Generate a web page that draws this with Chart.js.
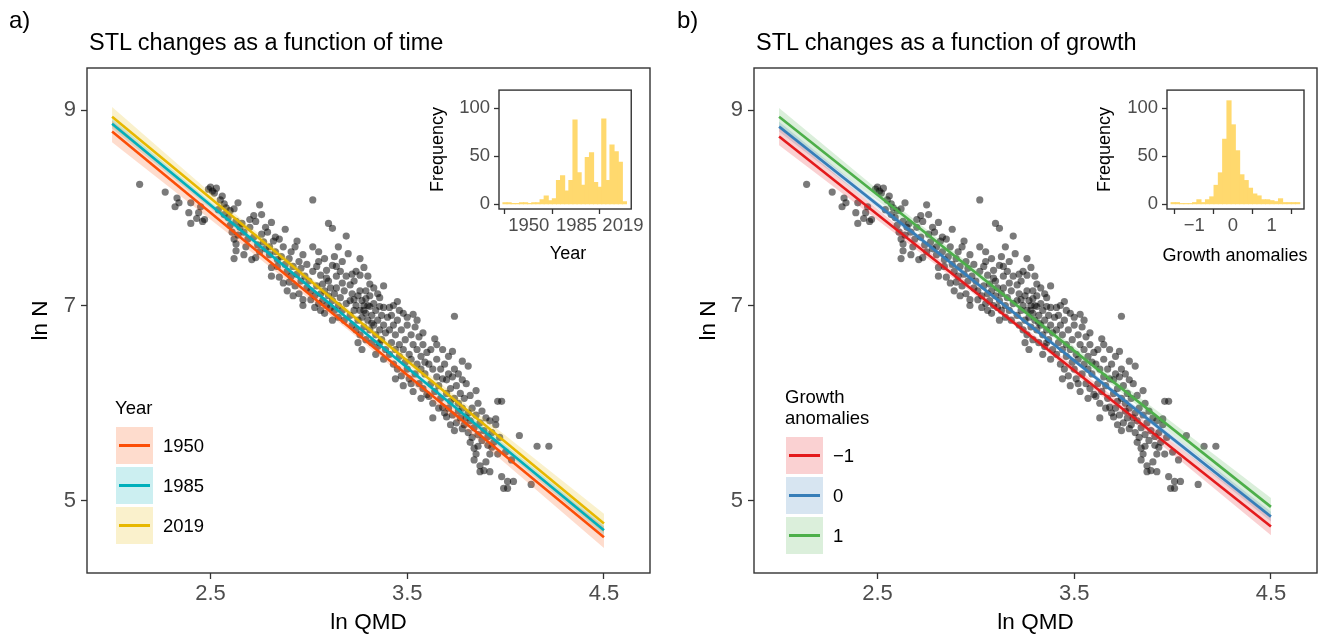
<!DOCTYPE html>
<html><head><meta charset="utf-8">
<script src="https://cdn.jsdelivr.net/npm/chart.js@4.4.1/dist/chart.umd.min.js"></script>
<style>
html,body{margin:0;padding:0;background:#fff;width:1322px;height:636px;overflow:hidden;font-family:"Liberation Sans",Arial,sans-serif;}
canvas{position:absolute;}
.txt{position:absolute;white-space:nowrap;color:#000;line-height:1;transform:translateY(-50%);}
.key{position:absolute;width:37px;height:37px;}
.key i{position:absolute;left:3px;top:17px;width:31px;height:3px;}
</style></head><body>
<canvas id="mainA" width="665" height="636" style="left:0;top:0"></canvas>
<canvas id="mainB" width="657" height="636" style="left:665px;top:0"></canvas>
<canvas id="insA" width="220" height="195" style="left:425px;top:75px"></canvas>
<canvas id="insB" width="228" height="195" style="left:1093px;top:75px"></canvas>
<div id="txt"></div>
<script>
// ---------------- DATA ----------------
const qmdTicks = [2.5, 3.5, 4.5];
const lnNTicks = [5, 7, 9];
// observed stands: [ln QMD, ln N]
const obs = [
[2.14,8.24],[2.27,8.16],[2.33,8.10],[2.34,8.05],[2.32,8.01],[2.39,7.95],[2.40,8.05],[2.40,7.84],[2.43,7.89],[2.46,7.86],[2.45,8.01],[2.47,7.88],[2.44,7.95],
[2.49,8.19],[2.50,8.21],[2.51,8.17],[2.52,8.15],[2.53,8.20],[2.56,8.12],[2.57,8.04],[2.55,8.08],[2.58,8.00],[2.60,7.97],[2.62,7.99],[2.64,8.05],[2.62,7.68],[2.63,7.63],[2.62,7.48],[2.63,7.56],[2.60,7.82],[2.61,7.75],[2.63,7.86],[2.65,7.80],[2.64,7.72],[2.59,7.90],[2.54,7.98],[2.57,7.93],
[2.67,7.52],[2.68,7.60],[2.71,7.47],[2.73,7.49],[2.75,8.03],[2.72,7.92],[2.76,7.93],[2.73,7.86],[2.81,7.85],[2.76,7.73],[2.82,7.66],[2.85,7.68],[2.81,7.39],[2.81,7.30],[2.85,7.29],[2.67,7.75],[2.69,7.68],[2.70,7.80],[2.72,7.70],[2.74,7.62],[2.75,7.55],[2.77,7.65],[2.78,7.58],[2.79,7.75],[2.80,7.52],[2.83,7.55],[2.84,7.47],[2.70,7.88],[2.66,7.84],[2.78,7.80],[2.80,7.60],[2.83,7.70],[2.84,7.40],
[2.88,7.78],[2.87,7.23],[2.90,7.24],[2.94,7.66],[2.93,7.60],[2.97,7.52],[2.99,7.42],[2.97,7.06],[2.97,7.00],[2.86,7.50],[2.88,7.42],[2.89,7.35],[2.90,7.48],[2.91,7.30],[2.92,7.40],[2.93,7.20],[2.94,7.32],[2.95,7.45],[2.96,7.25],[2.96,7.38],[2.98,7.30],[2.99,7.18],[2.87,7.60],[2.91,7.55],[2.95,7.12],[2.89,7.15],[2.92,7.10],
[3.01,7.06],[3.02,8.08],[3.02,7.60],[3.04,7.40],[3.08,7.48],[3.06,7.31],[3.09,7.36],[3.10,7.84],[3.12,7.79],[3.12,7.41],[3.14,7.30],[3.17,7.23],[3.14,7.18],[3.08,6.92],[3.12,6.85],[3.19,7.71],[3.20,7.53],[3.00,7.25],[3.01,7.15],[3.02,7.35],[3.03,7.10],[3.04,7.20],[3.05,7.02],[3.05,7.45],[3.06,7.12],[3.07,7.22],[3.07,7.05],[3.08,7.15],[3.09,7.00],[3.10,7.10],[3.10,7.25],[3.11,6.98],[3.11,7.18],[3.12,7.05],[3.13,6.95],[3.13,7.12],[3.14,7.40],[3.15,7.00],[3.15,6.88],[3.16,7.08],[3.16,7.35],[3.17,6.95],[3.18,7.15],[3.18,6.85],[3.19,7.02],[3.19,7.30],[3.03,6.98],[3.06,6.95],[3.09,7.28],[3.13,7.50],[3.17,7.45],[3.15,7.60],[3.05,7.55],
[3.21,7.21],[3.26,7.15],[3.29,7.15],[3.29,7.07],[3.23,7.06],[3.26,7.48],[3.28,7.39],[3.26,7.31],[3.26,6.95],[3.31,6.99],[3.36,6.99],[3.21,6.90],[3.21,7.05],[3.22,6.80],[3.22,7.12],[3.23,6.95],[3.24,6.75],[3.24,7.00],[3.25,6.85],[3.25,7.10],[3.26,6.70],[3.27,6.88],[3.27,7.05],[3.28,6.78],[3.28,6.95],[3.29,6.65],[3.30,6.85],[3.30,7.00],[3.31,6.75],[3.31,7.10],[3.32,6.90],[3.32,6.62],[3.33,6.80],[3.33,7.02],[3.34,6.70],[3.34,6.95],[3.35,6.85],[3.35,6.58],[3.36,6.75],[3.36,7.08],[3.37,6.90],[3.37,6.65],[3.38,6.80],[3.38,6.98],[3.39,6.55],[3.39,6.72],[3.40,6.88],[3.23,7.25],[3.25,6.62],[3.27,6.55],[3.30,7.30],[3.33,7.18],[3.35,7.12],[3.38,7.20],[3.24,7.35],[3.29,6.92],[3.32,6.82],[3.36,6.62],[3.22,7.32],[3.31,7.22],[3.28,7.00],[3.34,6.50],[3.38,6.45],
[3.45,7.04],[3.53,6.91],[3.52,6.20],[3.60,6.09],[3.61,6.07],[3.41,6.75],[3.41,6.50],[3.42,6.62],[3.42,6.90],[3.43,6.40],[3.43,6.80],[3.44,6.55],[3.44,6.70],[3.45,6.85],[3.45,6.35],[3.46,6.60],[3.46,6.48],[3.47,6.75],[3.47,6.28],[3.48,6.55],[3.48,6.92],[3.49,6.42],[3.49,6.65],[3.50,6.35],[3.50,6.80],[3.51,6.50],[3.51,6.25],[3.52,6.70],[3.52,6.45],[3.53,6.60],[3.54,6.30],[3.54,6.78],[3.55,6.40],[3.55,6.55],[3.56,6.20],[3.56,6.68],[3.57,6.35],[3.57,6.48],[3.58,6.15],[3.58,6.60],[3.59,6.30],[3.59,6.42],[3.60,6.52],[3.41,6.98],[3.43,7.00],[3.46,6.95],[3.50,6.88],[3.55,6.85],[3.58,6.72],[3.44,6.25],[3.48,6.18],[3.53,6.12],[3.57,6.05],
[3.64,6.66],[3.68,6.55],[3.73,6.53],[3.78,6.43],[3.81,6.38],[3.74,6.35],[3.78,6.24],[3.73,6.27],[3.74,6.89],[3.65,6.27],[3.70,6.24],[3.68,5.96],[3.70,5.86],[3.72,5.78],[3.74,5.72],[3.78,5.74],[3.61,6.40],[3.62,6.20],[3.62,6.55],[3.63,6.00],[3.63,6.35],[3.64,6.12],[3.65,6.45],[3.66,5.95],[3.66,6.18],[3.67,6.35],[3.67,6.05],[3.68,6.25],[3.69,5.90],[3.69,6.40],[3.70,6.10],[3.71,5.95],[3.71,6.30],[3.72,6.02],[3.72,6.15],[3.73,5.88],[3.74,6.05],[3.75,5.80],[3.75,6.18],[3.76,5.92],[3.76,6.00],[3.77,5.85],[3.77,6.10],[3.78,5.95],[3.79,5.78],[3.79,6.05],[3.80,5.85],[3.80,6.20],[3.65,6.60],[3.71,6.48],[3.76,6.30],[3.63,5.85],
[3.85,6.13],[3.82,6.08],[3.96,6.02],[3.98,6.02],[4.07,5.67],[4.16,5.56],[4.22,5.56],[3.95,5.84],[3.92,5.82],[3.95,5.78],[3.91,5.57],[3.86,5.56],[3.96,5.48],[3.92,5.48],[3.87,5.36],[3.90,5.40],[3.89,5.31],[3.87,5.30],[3.92,5.30],[3.98,5.25],[4.01,5.20],[4.04,5.20],[3.99,5.13],[4.01,5.13],[4.13,5.17],[3.83,5.65],[3.84,5.54],[3.81,5.70],[3.82,5.82],[3.83,5.95],[3.84,5.75],[3.85,5.88],[3.86,5.68],[3.87,5.80],[3.88,5.62],[3.88,5.92],[3.89,5.72],[3.90,5.85],[3.91,5.66],[3.93,5.70],[3.94,5.60],[3.85,5.48],[3.82,5.60],[3.81,5.90],[3.86,6.00],[3.97,5.65],[4.00,5.50],[4.03,5.42],[3.93,5.55],[3.84,5.42]
];

// fitted lines (endpoints) and confidence bands
const fitX = [2.0, 4.5];
const bandX = [2.0, 2.6, 3.2, 3.8, 4.5];

const yearLevels = ['1950', '1985', '2019'];
const fit1950 = [8.78, 4.63];
const fit1985 = [8.86, 4.70];
const fit2019 = [8.93, 4.77];
const band1950Hi = [8.89, 7.84, 6.83, 5.85, 4.74];
const band1950Lo = [8.67, 7.72, 6.75, 5.73, 4.52];
const band1985Hi = [8.91, 7.89, 6.88, 5.90, 4.75];
const band1985Lo = [8.81, 7.83, 6.84, 5.84, 4.65];
const band2019Hi = [9.03, 7.98, 6.97, 5.99, 4.87];
const band2019Lo = [8.83, 7.88, 6.90, 5.89, 4.67];

const growthLevels = ['\u22121', '0', '1'];
const fitGm1 = [8.73, 4.74];
const fitG0  = [8.83, 4.84];
const fitGp1 = [8.93, 4.94];
const bandGm1Hi = [8.82, 7.82, 6.85, 5.91, 4.83];
const bandGm1Lo = [8.64, 7.72, 6.79, 5.81, 4.65];
const bandG0Hi  = [8.88, 7.90, 6.94, 5.99, 4.89];
const bandG0Lo  = [8.78, 7.84, 6.90, 5.93, 4.79];
const bandGp1Hi = [9.02, 8.02, 7.05, 6.11, 5.03];
const bandGp1Lo = [8.84, 7.92, 6.99, 6.01, 4.85];

// inset histograms
const yearBinMid = [1932.6,1935.6,1938.6,1941.7,1944.7,1947.7,1950.7,1953.7,1956.7,1959.8,1962.8,1965.8,1968.8,1971.8,1974.8,1977.9,1980.9,1983.9,1986.9,1989.9,1992.9,1996.0,1999.0,2002.0,2005.0,2008.0,2011.0,2014.1,2017.1,2020.1];
const yearCount  = [2,2,1,1,2,2,1,2,2,5,9,4,6,25,30,14,25,88,33,20,49,54,23,18,89,25,62,55,44,3];
const yearTicks  = [1950, 1985, 2019];

const growthBinMid = [-1.546,-1.435,-1.324,-1.213,-1.102,-0.991,-0.880,-0.769,-0.658,-0.547,-0.436,-0.325,-0.214,-0.103,0.008,0.119,0.230,0.341,0.452,0.563,0.674,0.785,0.896,1.007,1.118,1.229,1.340,1.451,1.562,1.673];
const growthCount  = [2,2,1,1,1,2,5,2,5,8,20,33,68,108,83,56,31,25,17,11,9,5,5,4,3,6,2,2,2,2];
const growthTicks  = [-1, 0, 1];
const freqTicks    = [0, 50, 100];

// ---------------- STYLE ----------------
const yearColors   = ['#FC4E07', '#00AFBB', '#E7B800'];
const growthColors = ['#E41A1C', '#377EB8', '#4DAF4A'];
const FONT = '"Liberation Sans", Arial, sans-serif';
Chart.defaults.font.family = FONT;

function hexA(hex, a) {
  const n = parseInt(hex.slice(1), 16);
  return `rgba(${(n>>16)&255},${(n>>8)&255},${n&255},${a})`;
}
const xy = (xs, ys) => xs.map((x, i) => ({x, y: ys[i]}));

function buildDatasets(fits, his, los, colors) {
  const ds = [{
    data: obs.map(p => ({x: p[0], y: p[1]})),
    showLine: false, pointRadius: 3.6, pointHoverRadius: 3.6,
    pointBackgroundColor: 'rgba(0,0,0,0.52)', pointBorderWidth: 0, order: 3
  }];
  fits.forEach((f, k) => {
    ds.push({data: xy(bandX, his[k]), fill: '+1', backgroundColor: hexA(colors[k], 0.2),
      borderWidth: 0, borderColor: 'transparent', pointRadius: 0, order: 2});
    ds.push({data: xy(bandX, los[k]), fill: false, borderWidth: 0, borderColor: 'transparent', pointRadius: 0, order: 2});
    ds.push({data: xy(fitX, f), borderColor: colors[k], borderWidth: 2.6, pointRadius: 0, fill: false, order: 1 - k * 0.1});
  });
  return ds;
}

const boxPlugin = {id: 'box', afterDraw(chart) {
  const {ctx, chartArea: a} = chart;
  ctx.save(); ctx.strokeStyle = '#333333'; ctx.lineWidth = 1.4;
  ctx.strokeRect(a.left, a.top, a.right - a.left, a.bottom - a.top); ctx.restore();
}};
const whitePlugin = {id: 'white', beforeDraw(chart) {
  const {ctx, chartArea: a} = chart;
  ctx.save(); ctx.fillStyle = '#fff'; ctx.fillRect(a.left, a.top, a.right - a.left, a.bottom - a.top); ctx.restore();
}};

const tickGrid = {display: true, drawOnChartArea: false, drawTicks: true, tickLength: 6, tickColor: '#333333', tickWidth: 1.3};

function mainChart(id, datasets, yW, padRight, yTitlePad) {
  return new Chart(document.getElementById(id), {
    type: 'line',
    data: {datasets},
    options: {
      responsive: false, animation: false, devicePixelRatio: 1,
      layout: {padding: {left: 0, top: 68, right: padRight, bottom: 0}},
      plugins: {legend: {display: false}, tooltip: {enabled: false}},
      elements: {line: {tension: 0}},
      scales: {
        x: {type: 'linear', min: 1.8725, max: 4.734,
          afterBuildTicks: s => { s.ticks = qmdTicks.map(v => ({value: v})); },
          afterFit: s => { s.height = 63; },
          ticks: {color: '#4D4D4D', font: {size: 22}, padding: 2, maxRotation: 0, autoSkip: false},
          grid: tickGrid, border: {display: false},
          title: {display: true, text: 'ln QMD', color: '#000', font: {size: 22.5}, padding: {top: 2, bottom: 0}}},
        y: {type: 'linear', min: 4.2634, max: 9.4297,
          afterBuildTicks: s => { s.ticks = lnNTicks.map(v => ({value: v})); },
          afterFit: s => { s.width = yW; },
          ticks: {color: '#4D4D4D', font: {size: 22}, padding: 5, autoSkip: false},
          grid: tickGrid, border: {display: false},
          title: {display: true, text: 'ln N', color: '#000', font: {size: 22.5}, padding: {top: yTitlePad, bottom: 0}}}
      }
    },
    plugins: [boxPlugin]
  });
}

mainChart('mainA', buildDatasets([fit1950, fit1985, fit2019], [band1950Hi, band1985Hi, band2019Hi], [band1950Lo, band1985Lo, band2019Lo], yearColors), 87, 15, 27);
mainChart('mainB', buildDatasets([fitGm1, fitG0, fitGp1], [bandGm1Hi, bandG0Hi, bandGp1Hi], [bandGm1Lo, bandG0Lo, bandGp1Lo], growthColors), 89, 5, 30);

function insetChart(id, mids, counts, xmin, xmax, xticks, labelFn, padRight, yTitlePad) {
  return new Chart(document.getElementById(id), {
    type: 'bar',
    data: {datasets: [{data: mids.map((x, i) => ({x, y: counts[i]})), backgroundColor: '#FFD96E',
      barPercentage: 1, categoryPercentage: 1, barThickness: 4.5, borderWidth: 0}]},
    options: {
      responsive: false, animation: false, devicePixelRatio: 1,
      layout: {padding: {left: 0, top: 6, right: padRight, bottom: 0}},
      plugins: {legend: {display: false}, tooltip: {enabled: false}},
      scales: {
        x: {type: 'linear', min: xmin, max: xmax, offset: false,
          afterBuildTicks: s => { s.ticks = xticks.map(v => ({value: v})); },
          afterFit: s => { s.height = 61; },
          ticks: {color: '#4D4D4D', font: {size: 18.5}, padding: 1, maxRotation: 0, autoSkip: false, callback: labelFn},
          grid: {...tickGrid, tickLength: 5}, border: {display: false}},
        y: {type: 'linear', min: -4.8, max: 119,
          afterBuildTicks: s => { s.ticks = freqTicks.map(v => ({value: v})); },
          afterFit: s => { s.width = 74; },
          ticks: {color: '#4D4D4D', font: {size: 18.5}, padding: 4, autoSkip: false},
          grid: {...tickGrid, tickLength: 5}, border: {display: false},
          title: {display: true, text: 'Frequency', color: '#000', font: {size: 18}, padding: {top: yTitlePad, bottom: 0}}}
      }
    },
    plugins: [whitePlugin, boxPlugin]
  });
}
insetChart('insA', yearBinMid, yearCount, 1928.2, 2025.1, yearTicks, v => String(v), 8, 2);
insetChart('insB', growthBinMid, growthCount, -1.705, 1.835, growthTicks, v => (v < 0 ? '\u2212' + Math.abs(v) : String(v)), 17, 1);

// ---------------- TEXT & LEGENDS ----------------
const T = document.getElementById('txt');
function text(str, left, cy, size, extra) {
  const d = document.createElement('div');
  d.className = 'txt'; d.textContent = str;
  d.style.left = left + 'px'; d.style.top = cy + 'px'; d.style.fontSize = size + 'px';
  if (extra) Object.assign(d.style, extra);
  T.appendChild(d); return d;
}
text('a)', 9, 20, 24);
text('b)', 677, 20, 24);
text('STL changes as a function of time', 89, 43, 23.5);
text('STL changes as a function of growth', 756, 43, 23.5);
text('Year', 568, 253, 18, {transform: 'translate(-50%,-50%)'});
text('Growth anomalies', 1235, 255, 18, {transform: 'translate(-50%,-50%)'});

function legend(title, titleLines, keyLeft, keyTop, levels, colors) {
  titleLines.forEach((s, i) => text(s, keyLeft - 1, title + i * 21, 18.5));
  levels.forEach((lab, k) => {
    const key = document.createElement('div');
    key.className = 'key';
    key.style.left = keyLeft + 'px'; key.style.top = (keyTop + k * 40) + 'px';
    key.style.background = hexA(colors[k], 0.2);
    const ln = document.createElement('i'); ln.style.background = colors[k];
    key.appendChild(ln); T.appendChild(key);
    text(lab, keyLeft + 47, keyTop + k * 40 + 19, 18.5);
  });
}
legend(408, ['Year'], 116, 427, yearLevels, yearColors);
legend(397, ['Growth', 'anomalies'], 786, 437, growthLevels, growthColors);
</script>
</body></html>
